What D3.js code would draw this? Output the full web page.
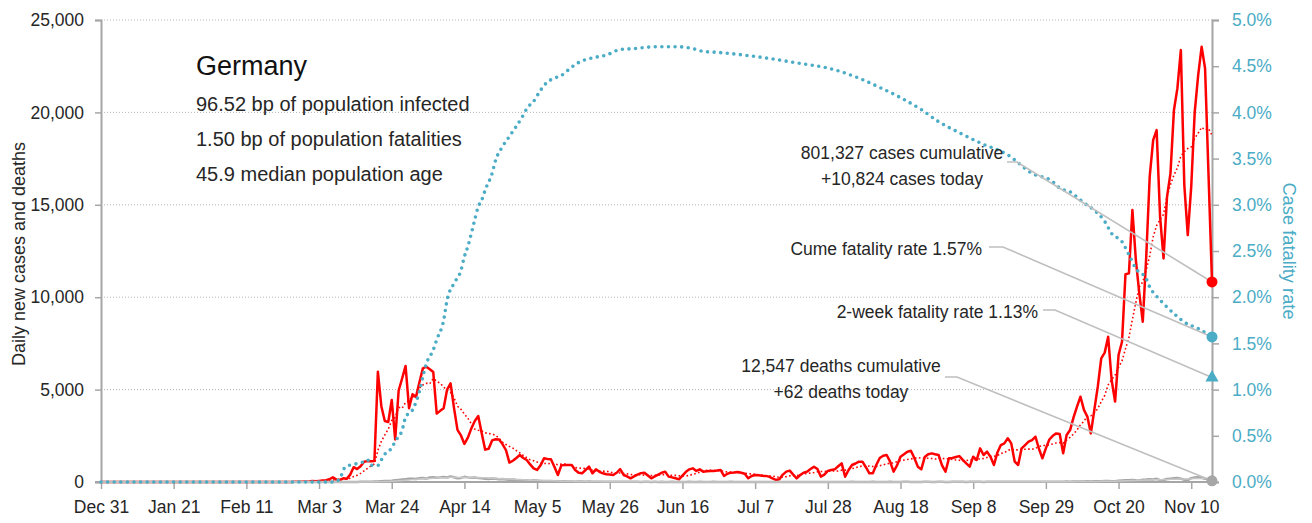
<!DOCTYPE html>
<html>
<head>
<meta charset="utf-8">
<script src="https://cdn.jsdelivr.net/npm/d3@7"></script>
<style>
  body { margin: 0; background: #fff; }
  text { font-family: "Liberation Sans", Arial, sans-serif; }
</style>
</head>
<body>
<div id="chart"></div>
<script>
// day 0 = Dec 31 2019, one value per day up to Nov 16 2020
const startDate = new Date(2019, 11, 31);

const casesDaily = [
  0,0,0,0,0,0,0,0,0,0,
  0,0,0,0,0,0,0,0,0,0,
  0,0,0,0,0,0,0,0,4,0,
  0,2,0,0,0,3,0,0,0,0,
  0,0,0,0,0,2,0,0,0,0,
  0,0,0,0,0,2,10,20,15,30,
  20,50,40,60,80,100,150,250,130,120,
  200,170,400,800,700,850,1100,1130,1120,1140,
  5960,4100,3300,3250,4440,2300,4950,5600,6280,3990,
  4750,4600,5400,6150,6240,6100,5950,3700,3850,3990,
  5000,5340,4000,2820,2520,2060,2400,2900,3300,3570,
  2640,1750,1800,2250,2310,2300,2050,1730,1050,1150,
  1300,1460,1300,1190,950,740,650,900,1280,1250,
  1230,830,380,900,920,920,920,650,500,470,
  650,830,470,685,550,470,420,400,380,500,
  700,380,300,200,300,400,480,505,350,200,
  300,400,500,560,290,250,200,146,350,550,
  685,740,600,685,560,580,600,600,620,650,
  325,450,505,520,540,500,450,200,325,380,
  360,340,330,290,200,110,146,400,560,615,
  400,200,380,500,560,700,830,700,290,400,
  600,650,685,850,1010,290,650,920,1000,1100,
  1100,800,470,470,920,1300,1420,1460,1100,560,
  900,1370,1500,1640,1690,1300,830,685,1350,1500,
  1550,1500,1460,900,560,1282,1300,1350,1400,1200,
  1010,830,1370,1190,1820,1460,1640,1370,920,1600,
  2000,2090,2365,2090,1100,920,1820,2000,2180,2270,
  2450,1800,1282,1820,2300,2500,2630,2600,1550,2540,
  2810,3500,4075,4615,3900,3530,2630,3900,5160,6690,
  7000,7860,5520,4350,6870,7590,11240,11290,14720,12010,
  10210,8670,12190,16520,18500,19040,14350,12100,15430,16700,
  20120,21300,23370,16070,13360,15980,20000,22000,23550,22380,
  16600,10824
];

const deathsDaily = [
  0,0,0,0,0,0,0,0,0,0,
  0,0,0,0,0,0,0,0,0,0,
  0,0,0,0,0,0,0,0,0,0,
  0,0,0,0,0,0,0,0,0,0,
  0,0,0,0,0,0,0,0,0,0,
  0,0,0,0,0,0,0,0,0,0,
  0,0,0,0,0,0,0,0,0,0,
  1,2,3,4,6,8,10,14,18,22,
  30,40,50,60,70,90,110,130,150,170,
  180,160,200,220,180,240,260,230,250,270,
  240,300,260,200,220,280,250,230,240,210,
  200,180,160,190,170,150,160,140,120,130,
  110,100,90,80,70,90,80,60,50,60,
  50,40,40,30,40,30,30,20,30,25,
  20,25,15,20,15,20,10,15,12,10,
  12,10,8,10,12,8,6,10,8,6,
  8,6,10,5,4,8,6,5,4,6,
  10,6,5,8,6,4,6,8,5,4,
  6,4,8,5,6,4,3,5,6,4,
  5,6,4,3,5,6,4,3,6,5,
  4,6,5,3,4,6,5,4,3,5,
  6,4,5,3,6,5,4,8,6,5,
  4,6,5,8,6,4,5,6,8,5,
  6,4,8,10,6,5,4,6,8,10,
  6,5,8,10,6,4,8,10,12,8,
  6,10,8,12,10,6,8,10,12,14,
  10,8,12,14,10,8,12,16,14,12,
  10,14,16,20,18,12,16,20,18,24,
  20,30,26,24,28,34,30,38,44,40,
  50,60,46,40,70,80,90,100,110,90,
  80,120,130,150,140,170,100,110,160,180,
  200,220,180,120,100,210,250,260,230,180,
  120,62
];

// cumulative case fatality rate (%), read at these day numbers
const cfrDay = [0,67,69,70,71,73,74,76,77,78,80,81,82,84,85,87,88,90,92,93,94,96,97,99,100,
  102,104,105,106,107,108,109,110,111,113,114,116,118,120,122,123,125,127,129,131,133,136,138,
  142,146,150,154,160,167,171,174,178,190,202,210,219,225,231,237,242,248,254,262,269,275,277,
  280,284,287,290,292,295,297,299,302,303,305,307,311,313,317,321];
const cfrPct = [0,0,0.03,0.13,0.17,0.19,0.20,0.22,0.24,0.18,0.18,0.24,0.30,0.37,0.44,0.56,0.70,0.78,0.98,1.14,1.28,1.43,1.54,1.75,1.97,
  2.15,2.29,2.44,2.55,2.69,2.84,2.98,3.05,3.16,3.34,3.48,3.63,3.74,3.85,3.97,4.04,4.12,4.24,4.33,4.37,4.40,4.49,4.54,
  4.59,4.62,4.68,4.69,4.71,4.71,4.69,4.66,4.65,4.60,4.53,4.48,4.37,4.27,4.16,4.03,3.90,3.78,3.67,3.54,3.34,3.25,3.18,
  3.14,3.02,2.94,2.82,2.69,2.60,2.46,2.31,2.20,2.11,2.01,1.93,1.79,1.73,1.66,1.57];

const twoWeekCfr = 1.13;

const xTickDates = ["2019-12-31","2020-01-21","2020-02-11","2020-03-03","2020-03-24","2020-04-14",
  "2020-05-05","2020-05-26","2020-06-16","2020-07-07","2020-07-28","2020-08-18","2020-09-08",
  "2020-09-29","2020-10-20","2020-11-10"];
const leftTicks = [0,5000,10000,15000,20000,25000];
const rightTicks = [0,0.5,1,1.5,2,2.5,3,3.5,4,4.5,5];

const country = "Germany";
const infoLines = ["96.52 bp of population infected", "1.50 bp of population fatalities", "45.9 median population age"];
const casesNote = ["801,327 cases cumulative", "+10,824 cases today"];
const cumeNote = "Cume fatality rate 1.57%";
const twoWeekNote = "2-week fatality rate 1.13%";
const deathsNote = ["12,547 deaths cumulative", "+62 deaths today"];

const W = 1312, H = 523;
const pLeft = 101, pRight = 1212, pTop = 20, pBottom = 482;
const RED = "#ff0000", BLUE = "#4bacc6", GREY = "#a6a6a6", INK = "#262626";

const svg = d3.select("#chart").append("svg")
  .attr("width", W).attr("height", H);

const dayDate = i => d3.timeDay.offset(startDate, i);
const parse = d3.timeParse("%Y-%m-%d");
const lastDay = casesDaily.length - 1;

const x = d3.scaleTime().domain([startDate, dayDate(lastDay)]).range([pLeft, pRight]);
const yL = d3.scaleLinear().domain([0, 25000]).range([pBottom, pTop]);
const yR = d3.scaleLinear().domain([0, 5]).range([pBottom, pTop]);

// trailing 7 day mean
function rolling(arr) {
  return arr.map((v, i) => d3.mean(arr.slice(Math.max(0, i - 6), i + 1)));
}

// gridlines
svg.append("g")
  .selectAll("line")
  .data(leftTicks.filter(d => d > 0))
  .enter().append("line")
  .attr("x1", pLeft).attr("x2", pRight)
  .attr("y1", d => yL(d)).attr("y2", d => yL(d))
  .attr("stroke", "#b5b5b5").attr("stroke-width", 1)
  .attr("stroke-dasharray", "1,2");

// axes
const axL = svg.append("g")
  .attr("transform", "translate(" + pLeft + ",0)")
  .call(d3.axisLeft(yL).tickValues(leftTicks).tickFormat(d3.format(",")).tickSize(6).tickPadding(11));
const axR = svg.append("g")
  .attr("transform", "translate(" + pRight + ",0)")
  .call(d3.axisRight(yR).tickValues(rightTicks).tickFormat(d => d.toFixed(1) + "%").tickSize(7).tickPadding(13));
const axB = svg.append("g")
  .attr("transform", "translate(0," + pBottom + ")")
  .call(d3.axisBottom(x).tickValues(xTickDates.map(parse)).tickFormat(d3.timeFormat("%b %-d")).tickSize(7).tickPadding(12));

[axL, axR, axB].forEach(a => {
  a.select(".domain").attr("stroke", GREY).attr("stroke-width", 2);
  a.selectAll(".tick line").attr("stroke", GREY).attr("stroke-width", 1.5);
  a.selectAll(".tick text").attr("font-size", 17.5).attr("fill", INK)
    .attr("font-family", "Liberation Sans, Arial, sans-serif");
});
axR.selectAll(".tick text").attr("fill", BLUE);
axB.select(".domain").attr("d", "M" + (pLeft - 6) + ",0H" + pRight);

// series
const lineL = d3.line().x((d, i) => x(dayDate(i))).y(d => yL(d));

svg.append("path").datum(casesDaily)
  .attr("d", lineL).attr("fill", "none")
  .attr("stroke", RED).attr("stroke-width", 2.5).attr("stroke-linejoin", "round");

svg.append("path").datum(rolling(casesDaily))
  .attr("d", lineL).attr("fill", "none")
  .attr("stroke", RED).attr("stroke-width", 1.6).attr("stroke-dasharray", "1.6,2.4");

svg.append("path").datum(deathsDaily)
  .attr("d", lineL).attr("fill", "none")
  .attr("stroke", GREY).attr("stroke-width", 2.5).attr("stroke-linejoin", "round");

svg.append("path").datum(rolling(deathsDaily))
  .attr("d", lineL).attr("fill", "none")
  .attr("stroke", "#c8c8c8").attr("stroke-width", 1.5);

const cfr = cfrDay.map((d, i) => ({ day: d, v: cfrPct[i] }));
svg.append("path").datum(cfr)
  .attr("d", d3.line().x(d => x(dayDate(d.day))).y(d => yR(d.v)).curve(d3.curveMonotoneX))
  .attr("fill", "none")
  .attr("stroke", BLUE).attr("stroke-width", 3.6)
  .attr("stroke-linecap", "round").attr("stroke-dasharray", "0,6.6");

// end markers
const xe = x(dayDate(lastDay));
const pCases = [xe, yL(casesDaily[lastDay])];
const pCume = [xe, yR(cfrPct[cfrPct.length - 1])];
const pTwo = [xe, yR(twoWeekCfr)];
const pDeaths = [xe, yL(deathsDaily[lastDay])];

// leader lines
const leaders = [
  [[1007, 162], [1017, 162], pCases],
  [[989, 247], [1003, 247], pCume],
  [[1043, 310], [1055, 310], pTwo],
  [[945, 377], [957, 377], pDeaths]
];
svg.append("g").selectAll("path")
  .data(leaders).enter().append("path")
  .attr("d", d => d3.line()(d))
  .attr("fill", "none").attr("stroke", "#bfbfbf").attr("stroke-width", 1.6);

svg.append("circle").attr("cx", pCases[0]).attr("cy", pCases[1]).attr("r", 5.5).attr("fill", RED);
svg.append("circle").attr("cx", pCume[0]).attr("cy", pCume[1]).attr("r", 5.5).attr("fill", BLUE);
svg.append("path").attr("d", d3.symbol().type(d3.symbolTriangle).size(75)())
  .attr("transform", "translate(" + pTwo[0] + "," + pTwo[1] + ")").attr("fill", BLUE);
svg.append("circle").attr("cx", pDeaths[0]).attr("cy", pDeaths[1]).attr("r", 5.5).attr("fill", GREY);

// text
svg.append("text").attr("x", 196).attr("y", 75).attr("font-size", 27).attr("fill", "#111")
  .text(country);
svg.append("g").selectAll("text").data(infoLines).enter().append("text")
  .attr("x", 196).attr("y", (d, i) => 111 + i * 35)
  .attr("font-size", 20).attr("fill", INK)
  .text(d => d);

function note(lines, xPos, yPos, anchor) {
  svg.append("g").selectAll("text").data(lines).enter().append("text")
    .attr("x", xPos).attr("y", (d, i) => yPos + i * 26)
    .attr("text-anchor", anchor)
    .attr("font-size", 17.5).attr("fill", INK)
    .text(d => d);
}
note(casesNote, 902, 159, "middle");
note([cumeNote], 982, 255, "end");
note([twoWeekNote], 1038, 318, "end");
note(deathsNote, 841, 372, "middle");

svg.append("text")
  .attr("transform", "translate(25,254) rotate(-90)")
  .attr("text-anchor", "middle").attr("font-size", 18)
  .attr("fill", INK).text("Daily new cases and deaths");

svg.append("text")
  .attr("transform", "translate(1283,251) rotate(90)")
  .attr("text-anchor", "middle").attr("font-size", 18.3)
  .attr("fill", BLUE).text("Case fatality rate");
</script>
</body>
</html>
